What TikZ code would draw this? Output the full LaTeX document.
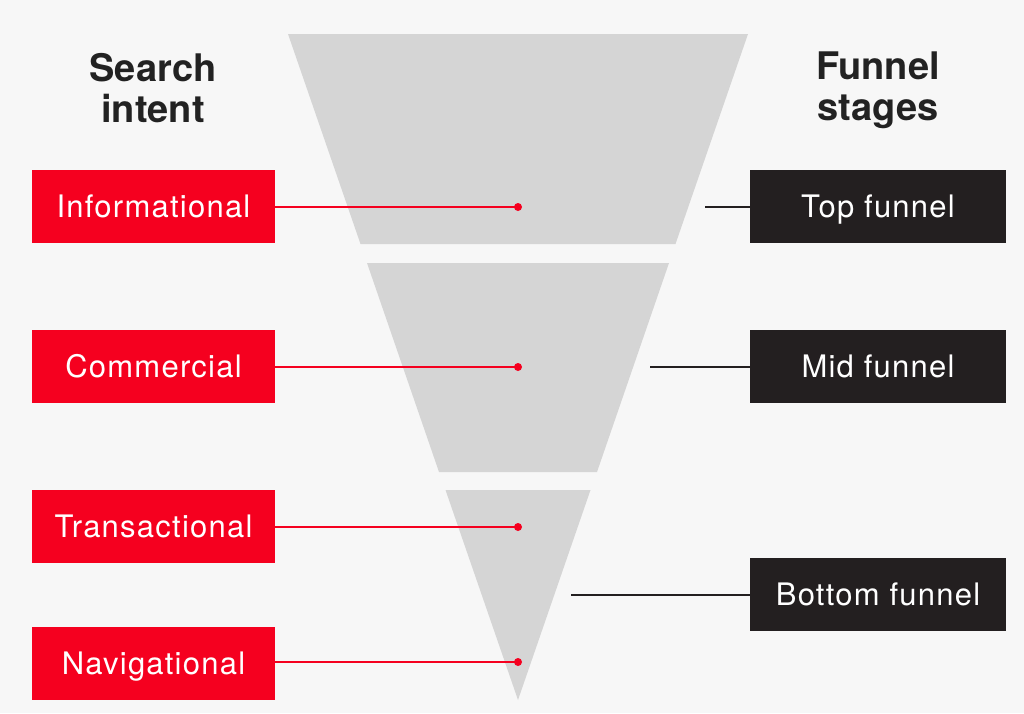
\documentclass[tikz,border=0pt]{standalone}
\usepackage{fontspec}
\setmainfont{TeX Gyre Heros}
\newfontfamily\boxfont[LetterSpace=4]{TeX Gyre Heros}
\definecolor{bg}{HTML}{F7F7F7}
\definecolor{fun}{HTML}{D5D5D5}
\definecolor{redbox}{HTML}{F5001F}
\definecolor{darkbox}{HTML}{231F20}
\definecolor{head}{HTML}{222222}
\tikzset{
  intentbox/.style={fill=redbox, text=white, minimum width=243pt, minimum height=73pt, inner sep=0pt,
    text height=22pt, text depth=0pt, font=\boxfont\fontsize{31}{34}\selectfont},
  stagebox/.style={fill=darkbox, text=white, minimum width=256pt, minimum height=73pt, inner sep=0pt,
    text height=22pt, text depth=0pt, font=\boxfont\fontsize{31}{34}\selectfont},
  heading/.style={text=head, align=center, font=\bfseries\fontsize{38}{41}\selectfont},
  redline/.style={draw=redbox, line width=2pt},
  blackline/.style={draw=darkbox, line width=2pt},
  dot/.style={fill=redbox},
  funnelpart/.style={fill=fun}
}
\begin{document}
\begin{tikzpicture}[x=1pt,y=-1pt]
\useasboundingbox[fill=bg] (0,0) rectangle (1024,713);
% funnel
\fill[funnelpart] (288,34) -- (748,34) -- (675.5,244) -- (360.5,244) -- cycle;
\fill[funnelpart] (367,263) -- (669,263) -- (597,472) -- (439,472) -- cycle;
\fill[funnelpart] (445.5,490) -- (590.5,490) -- (518,700) -- cycle;
% headings
\node[heading] (hsearch) at (153,88) {Search\\intent};
\node[heading] (hfunnel) at (878,90) {Funnel\\stages};
% intent boxes
\node[intentbox] (info) at (153.5,206.5) {Informational};
\node[intentbox] (comm) at (153.5,366.5) {Commercial};
\node[intentbox] (trans) at (153.5,526.5) {Transactional};
\node[intentbox] (nav) at (153.5,663) {Navigational};
% stage boxes
\node[stagebox] (top) at (878,206.5) {Top funnel};
\node[stagebox] (mid) at (878,366.5) {Mid funnel};
\node[stagebox] (bot) at (878,594.5) {Bottom funnel};
% dots
\coordinate (dinfo) at (518,207);
\coordinate (dcomm) at (518,367);
\coordinate (dtrans) at (518,527);
\coordinate (dnav) at (518,662);
\draw[redline] (info.east |- dinfo) -- (dinfo);
\draw[redline] (comm.east |- dcomm) -- (dcomm);
\draw[redline] (trans.east |- dtrans) -- (dtrans);
\draw[redline] (nav.east |- dnav) -- (dnav);
\foreach \d in {dinfo,dcomm,dtrans,dnav} \fill[dot] (\d) circle (4pt);
% black connectors
\coordinate (ctop) at (705,207);
\coordinate (cmid) at (650,367);
\coordinate (cbot) at (571,595);
\draw[blackline] (ctop) -- (top.west |- ctop);
\draw[blackline] (cmid) -- (mid.west |- cmid);
\draw[blackline] (cbot) -- (bot.west |- cbot);
\end{tikzpicture}
\end{document}
